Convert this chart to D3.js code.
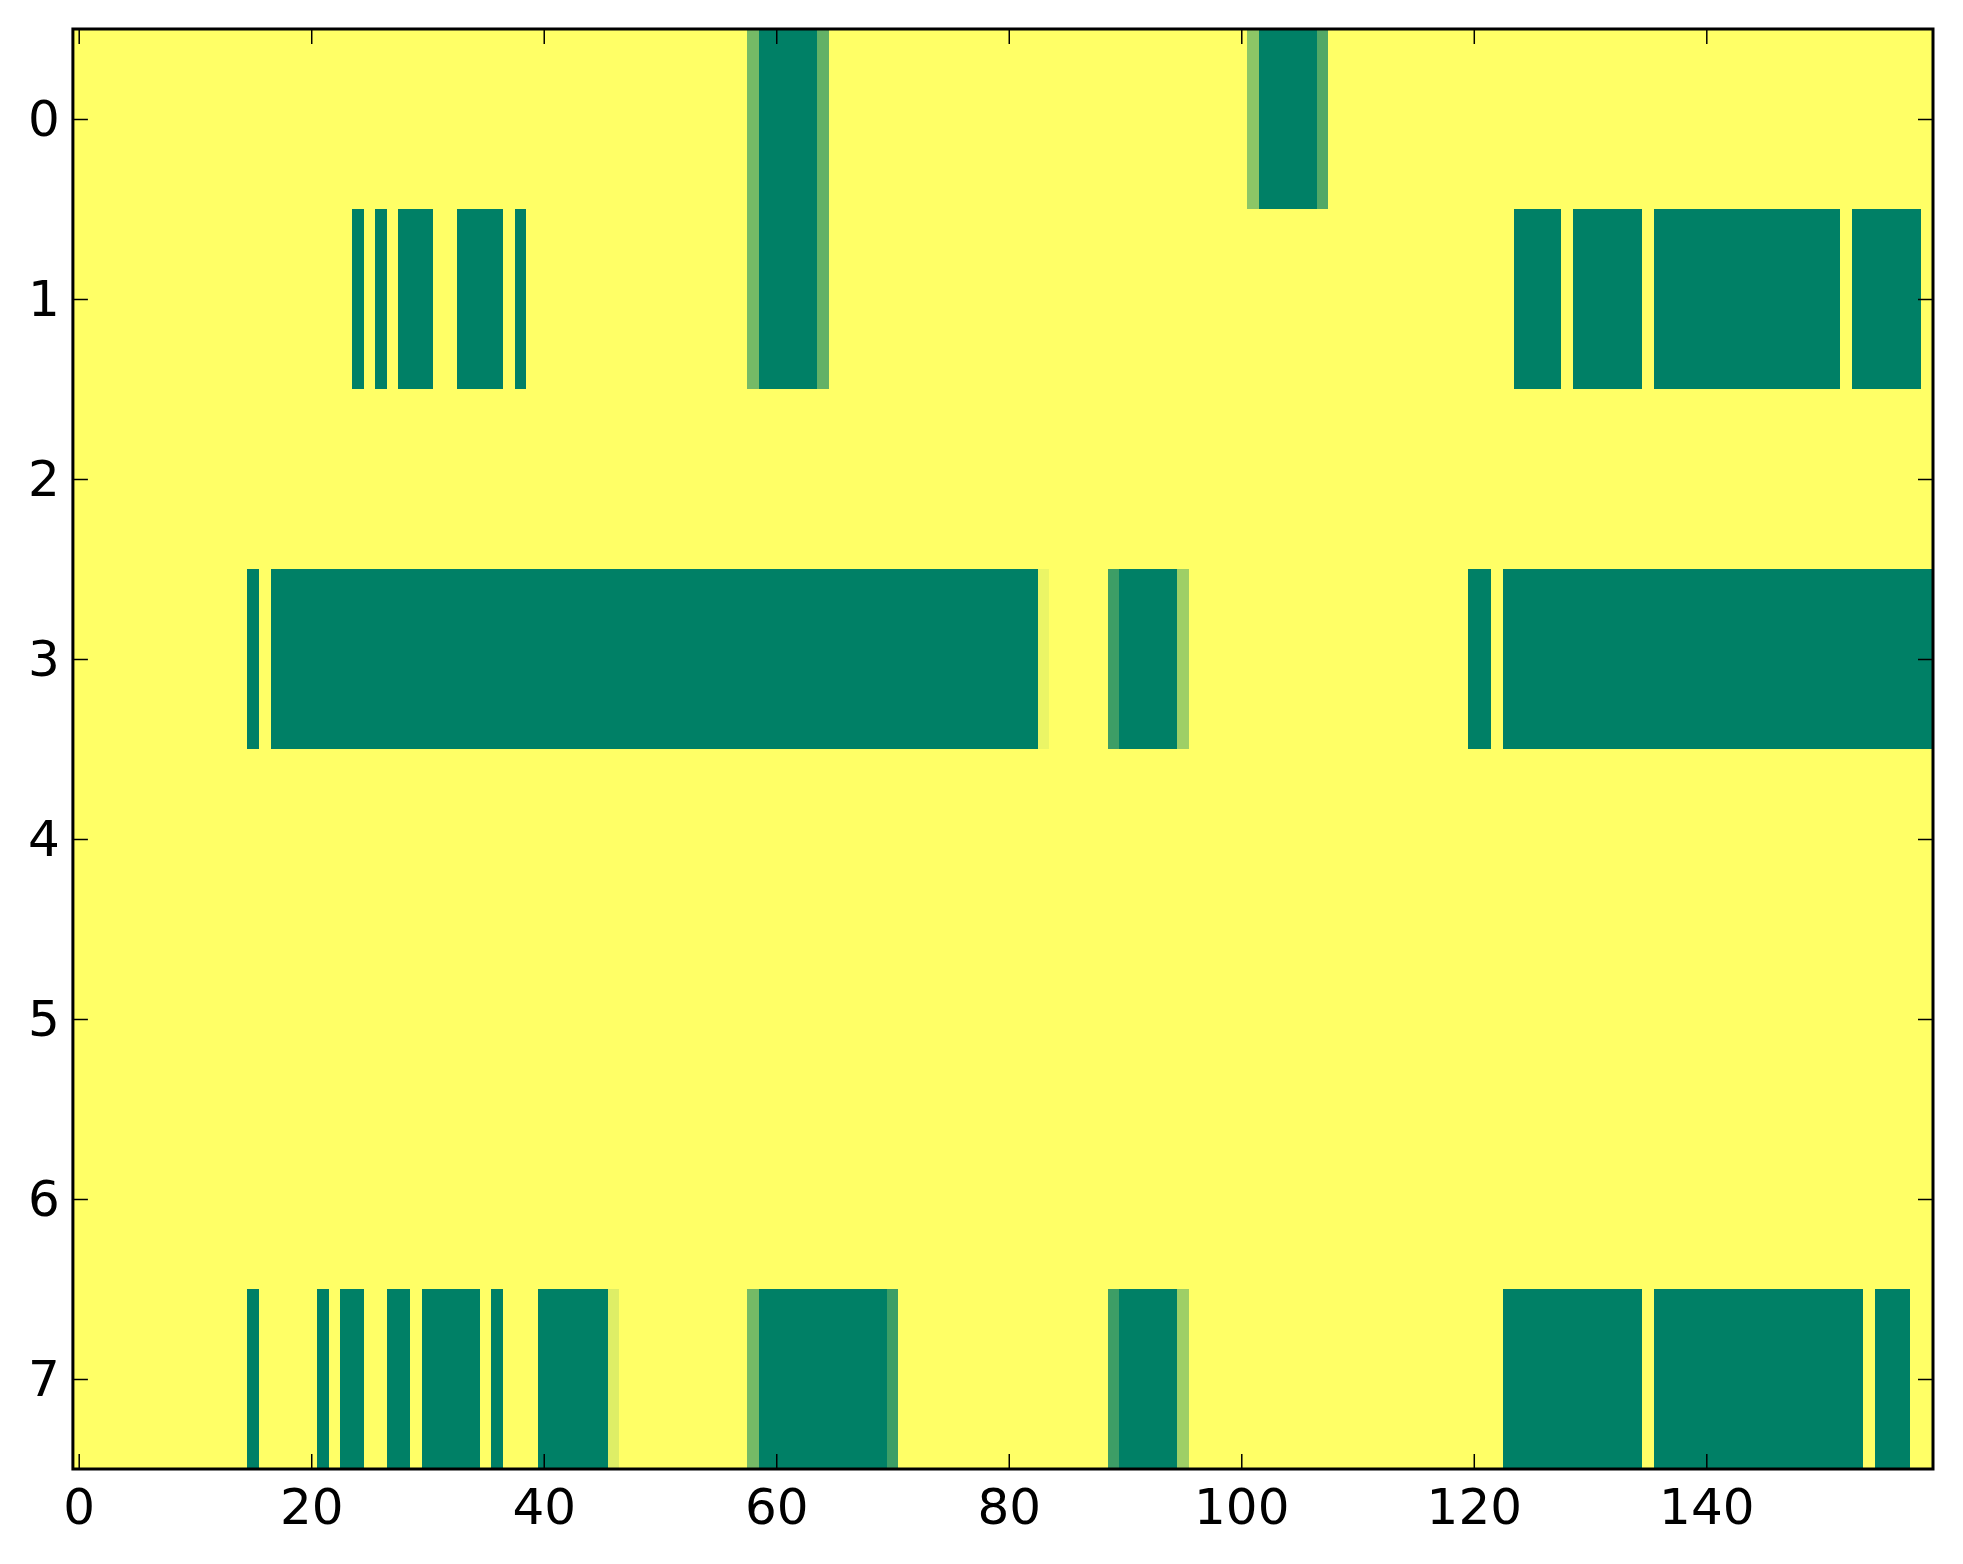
<!DOCTYPE html>
<html>
<head>
<meta charset="utf-8">
<script src="https://cdn.jsdelivr.net/npm/d3@7"></script>
<style>
  html, body { margin: 0; padding: 0; background: #ffffff; }
  svg { display: block; }
</style>
</head>
<body>
<script>
// ---- data ----
const nCols = 160;
const rowLabels = [0, 1, 2, 3, 4, 5, 6, 7];
const xTickValues = [0, 20, 40, 60, 80, 100, 120, 140];
// runs per row: [firstCol, lastCol, value]  (value 0 = yellow, 1 = green)
const row0 = [[58,58,0.54],[59,63,1],[64,64,0.61],[101,101,0.45],[102,106,1],[107,107,0.68]];
const row1 = [[24,24,1],[26,26,1],[28,30,1],[33,36,1],[38,38,1],[58,58,0.54],[59,63,1],[64,64,0.61],
              [124,127,1],[129,134,1],[136,151,1],[153,158,1]];
const row2 = [];
const row3 = [[15,15,1],[17,82,1],[83,83,0.08],[89,89,0.76],[90,94,1],[95,95,0.38],[120,121,1],[123,159,1]];
const row4 = [];
const row5 = [];
const row6 = [];
const row7 = [[15,15,1],[21,21,1],[23,24,1],[27,28,1],[30,34,1],[36,36,1],[40,45,1],[46,46,0.13],
              [58,58,0.54],[59,69,1],[70,70,0.76],[89,89,0.76],[90,94,1],[95,95,0.38],
              [123,134,1],[136,153,1],[155,157,1]];
const rowRuns = [row0, row1, row2, row3, row4, row5, row6, row7];

// build the grid of cells
const cells = [];
rowRuns.forEach((runs, r) => {
  const vals = new Array(nCols).fill(0);
  runs.forEach(([a, b, v]) => { for (let c = a; c <= b; c++) vals[c] = v; });
  vals.forEach((v, c) => cells.push({ r, c, v }));
});

// ---- layout ----
const W = 1963, H = 1564;
const L = 72.9, R = 1933, T = 29, B = 1469;

const svg = d3.select("body").append("svg").attr("width", W).attr("height", H);

const x = d3.scaleLinear().domain([-0.5, nCols - 0.5]).range([L, R]);
const y = d3.scaleLinear().domain([-0.5, rowLabels.length - 0.5]).range([T, B]);

// summer_r colormap
const color = t => d3.rgb((1 - t) * 255, (1 - 0.5 * t) * 255, 0.4 * 255).toString();

svg.append("g").attr("shape-rendering", "crispEdges")
  .selectAll("rect").data(cells).join("rect")
  .attr("x", d => x(d.c - 0.5))
  .attr("y", d => y(d.r - 0.5))
  .attr("width", d => x(d.c + 0.5) - x(d.c - 0.5) + 0.5)
  .attr("height", d => y(d.r + 0.5) - y(d.r - 0.5) + 0.5)
  .attr("fill", d => color(d.v));

const font = "'DejaVu Sans', sans-serif";
const tickLen = 15;

function style(g, showText) {
  g.select(".domain").remove();
  g.selectAll(".tick line").attr("stroke", "#000").attr("stroke-width", 1.5);
  g.selectAll(".tick text").attr("font-family", font).attr("font-size", 50).attr("fill", "#000");
  if (!showText) g.selectAll(".tick text").remove();
}

svg.append("g").attr("transform", `translate(0,${B})`)
  .call(d3.axisBottom(x).tickValues(xTickValues).tickSize(-tickLen).tickPadding(19))
  .call(g => style(g, true));
svg.append("g").attr("transform", `translate(0,${T})`)
  .call(d3.axisTop(x).tickValues(xTickValues).tickSize(-tickLen))
  .call(g => style(g, false));
svg.append("g").attr("transform", `translate(${L},0)`)
  .call(d3.axisLeft(y).tickValues(rowLabels).tickSize(-tickLen).tickPadding(13))
  .call(g => style(g, true));
svg.append("g").attr("transform", `translate(${R},0)`)
  .call(d3.axisRight(y).tickValues(rowLabels).tickSize(-tickLen))
  .call(g => style(g, false));

// frame
svg.append("rect")
  .attr("x", L).attr("y", T).attr("width", R - L).attr("height", B - T)
  .attr("fill", "none").attr("stroke", "#000").attr("stroke-width", 3);
</script>
</body>
</html>
